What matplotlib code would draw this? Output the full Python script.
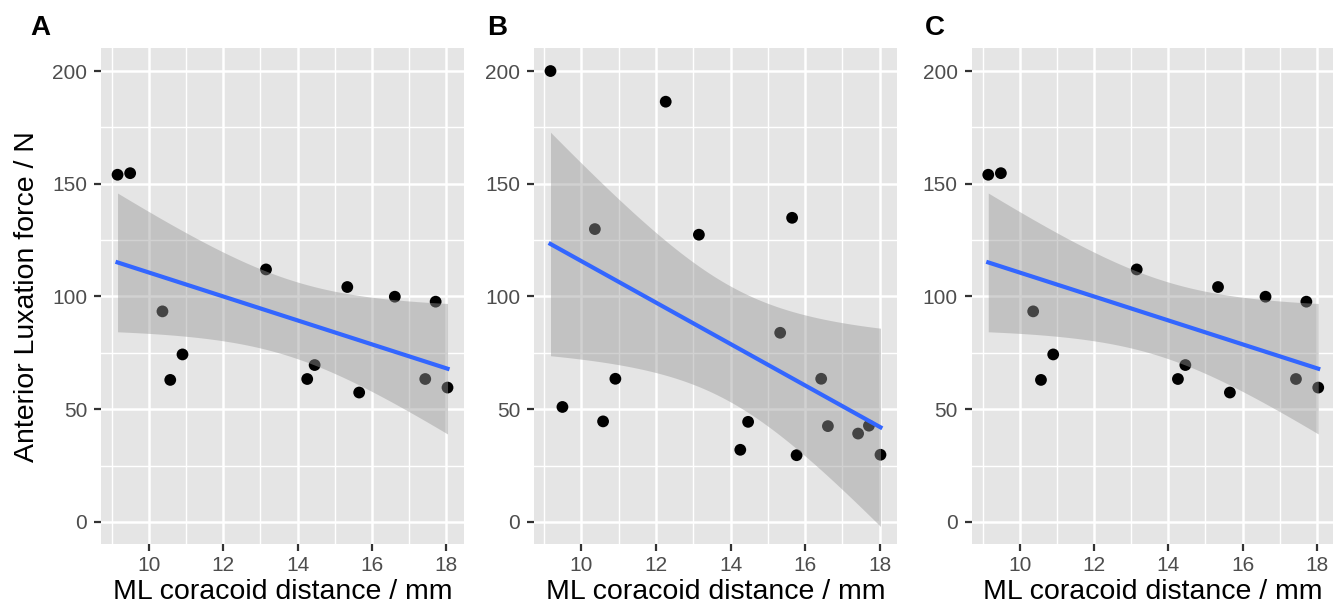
import numpy as np
import matplotlib
matplotlib.use("Agg")
import matplotlib.pyplot as plt

plt.rcParams["font.family"] = ["Liberation Sans", "DejaVu Sans"]

# panel A / C data (same measurements)
dist_ac = [9.15, 9.49, 10.36, 10.57, 10.90, 13.15, 14.26, 14.46, 15.34, 15.66, 16.62, 17.44, 17.72, 18.04]
force_ac = [154.0, 154.7, 93.4, 63.0, 74.3, 112.0, 63.4, 69.6, 104.2, 57.4, 99.9, 63.4, 97.7, 59.6]

# panel B data
dist_b = [9.17, 9.49, 10.36, 10.58, 10.91, 12.26, 13.15, 14.26, 14.47, 15.33, 15.65, 15.77, 16.43, 16.61, 17.42, 17.71, 18.02]
force_b = [200.0, 51.0, 129.9, 44.6, 63.5, 186.4, 127.4, 32.0, 44.4, 83.9, 134.9, 29.6, 63.5, 42.5, 39.2, 42.7, 29.8]

panel_labels = ["A", "B", "C"]
x_ticks = [10, 12, 14, 16, 18]
y_ticks = [0, 50, 100, 150, 200]
x_title = "ML coracoid distance / mm"
y_title = "Anterior Luxation force / N"

# two-sided 95% t quantiles by degrees of freedom
T975 = {12: 2.178813, 15: 2.131450}


def lm_band(x, y, n=80):
    x = np.asarray(x); y = np.asarray(y)
    slope, icpt = np.polyfit(x, y, 1)
    resid = y - (icpt + slope * x)
    df = len(x) - 2
    s = np.sqrt(np.sum(resid ** 2) / df)
    xs = np.linspace(x.min(), x.max(), n)
    se = s * np.sqrt(1 / len(x) + (xs - x.mean()) ** 2 / np.sum((x - x.mean()) ** 2))
    fit = icpt + slope * xs
    t = T975[df]
    return xs, fit, fit - t * se, fit + t * se


def gg_panel(ax, x, y, show_ylab):
    ax.set_facecolor("#E5E5E5")
    for sp in ax.spines.values():
        sp.set_visible(False)
    ax.set_xlim(min(x) - 0.05 * (max(x) - min(x)), max(x) + 0.05 * (max(x) - min(x)))
    ax.set_ylim(-10, 210)
    ax.set_xticks(x_ticks)
    ax.set_yticks(y_ticks)
    ax.set_xticks([9, 11, 13, 15, 17], minor=True)
    ax.set_yticks([25, 75, 125, 175], minor=True)
    ax.grid(True, which="major", color="white", lw=1.8)
    ax.grid(True, which="minor", color="white", lw=1.0)
    ax.set_axisbelow(True)
    ax.tick_params(which="major", length=5, width=1.6, color="#333333",
                   labelsize=15, labelcolor="#4D4D4D")
    ax.tick_params(axis="x", pad=3)
    ax.tick_params(axis="y", pad=5)
    ax.tick_params(which="minor", length=0)

    ax.scatter(x, y, s=72, color="black", edgecolors="none", zorder=3)
    xs, fit, lo, hi = lm_band(x, y)
    ax.fill_between(xs, lo, hi, color="#999999", alpha=0.45, lw=0, zorder=4)
    ax.plot(xs, fit, color="#3366FF", lw=3, zorder=5)

    ax.set_xlabel(x_title, fontsize=20.5, va="center")
    ax.xaxis.set_label_coords(0.5, -0.096)
    if show_ylab:
        ax.set_ylabel(y_title, fontsize=20.5, va="center")
        ax.yaxis.set_label_coords(-0.204, 0.5)


fig = plt.figure(figsize=(13.33, 6.10), dpi=100)
ax_a = fig.add_axes([0.0758, 0.1074, 0.2723, 0.8131])
ax_b = fig.add_axes([0.4006, 0.1074, 0.2723, 0.8131])
ax_c = fig.add_axes([0.729, 0.1074, 0.2723, 0.8131])

gg_panel(ax_a, dist_ac, force_ac, True)
gg_panel(ax_b, dist_b, force_b, False)
gg_panel(ax_c, dist_ac, force_ac, False)

for lab, xpos in zip(panel_labels, [40, 497, 935]):
    fig.text(xpos / 1333, 1 - 28 / 610, lab, fontsize=20, fontweight="bold",
             ha="center", va="center")

fig.savefig("out.png", dpi=100)
